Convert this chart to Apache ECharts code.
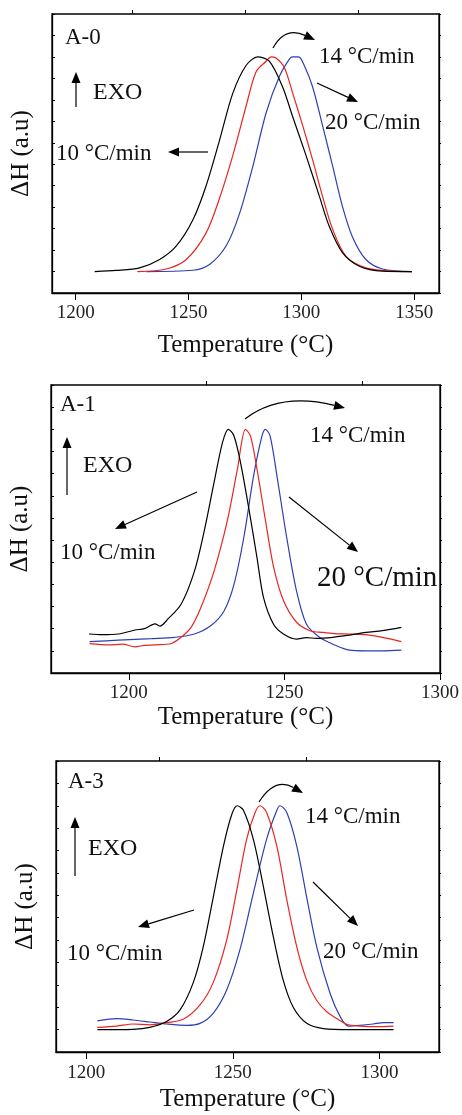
<!DOCTYPE html>
<html>
<head>
<meta charset="utf-8">
<script src="https://cdn.jsdelivr.net/npm/echarts@6/dist/echarts.min.js"></script>
<style>
html,body{margin:0;padding:0;background:#fff;}
#chart{width:462px;height:1115px;}
</style>
</head>
<body>
<div id="chart"></div>
<script>
// ---------- DATA ----------
// Panel A-0
const a0_t10 = [1208.4,1218,1228.3,1237.2,1244.5,1251.9,1257.8,1263.7,1269.6,1275.5,1280.7,1285.8,1291.7,1296.2,1302.1,1308,1312.4,1318.3,1325.7,1336,1349];
const a0_h10 = [0,0.005,0.017,0.056,0.118,0.24,0.40,0.61,0.83,0.96,1.0,0.98,0.86,0.72,0.54,0.35,0.21,0.087,0.025,0.002,0];
const a0_t14 = [1227.3,1240.1,1249,1257.8,1263.7,1269.6,1275.5,1279.9,1284.4,1286.6,1288.8,1292.5,1296.2,1300.6,1305,1309.4,1313.9,1319.8,1328.6,1338,1349];
const a0_h14 = [0,0.012,0.056,0.18,0.34,0.54,0.77,0.93,0.98,1.0,0.995,0.95,0.83,0.68,0.52,0.35,0.196,0.071,0.017,0.003,0];
const a0_t20 = [1231.3,1251.9,1259.3,1266.7,1272.6,1278.5,1284.4,1290.3,1294.7,1296.2,1298.8,1301.3,1305,1309.4,1313.9,1318.3,1322.7,1328.6,1336,1349];
const a0_h20 = [0,0.006,0.033,0.12,0.27,0.49,0.74,0.91,0.99,1.0,1.0,0.96,0.86,0.68,0.49,0.30,0.16,0.056,0.012,0];

// Panel A-1
const a1_t10 = [1187.2,1191.4,1196.7,1202,1205,1208.4,1210,1212.6,1216.8,1221.1,1224.3,1227.4,1230.1,1232,1233.8,1235.9,1238.6,1241.2,1243.3,1246.5,1249.7,1253.9,1257,1260.3,1265.6,1270.9,1276.2,1281.5,1287.6];
const a1_h10 = [0.076,0.073,0.076,0.094,0.1,0.122,0.112,0.144,0.21,0.36,0.545,0.76,0.94,1.0,0.97,0.85,0.64,0.42,0.24,0.12,0.076,0.053,0.06,0.056,0.061,0.071,0.083,0.091,0.106];
const a1_t14 = [1187.4,1193.5,1198,1202,1205,1208.4,1213.7,1216.8,1220,1223.2,1227.4,1231.7,1234.9,1237.5,1239.1,1241.2,1243.9,1246.5,1249.7,1253.9,1258.2,1262.4,1266,1270.9,1276.2,1281.5,1287.6];
const a1_h14 = [0.033,0.027,0.03,0.018,0.025,0.027,0.033,0.061,0.106,0.197,0.36,0.59,0.82,1.0,0.97,0.82,0.59,0.38,0.227,0.129,0.091,0.083,0.078,0.076,0.073,0.061,0.042];
const a1_t20 = [1187.4,1196.7,1207.3,1214.7,1221.1,1226.4,1230.6,1233.8,1237,1240.1,1242.8,1243.9,1245.4,1247.6,1250.7,1253.9,1257.1,1261.3,1265.6,1270.9,1276.2,1281.5,1287.6];
const a1_h20 = [0.042,0.048,0.055,0.061,0.076,0.114,0.18,0.30,0.515,0.79,0.97,1.0,0.97,0.79,0.515,0.27,0.12,0.061,0.03,0.003,0,0,0.003];

// Panel A-3
const a3_t10 = [1203.8,1216,1221.7,1227.4,1232,1236.5,1239.9,1243.3,1246.8,1249.6,1251.5,1253.6,1257,1260.4,1263.8,1267.2,1270.6,1275.2,1280.9,1290,1304.8];
const a3_h10 = [0,0.0015,0.01,0.036,0.088,0.21,0.37,0.59,0.82,0.96,1.0,0.98,0.85,0.64,0.415,0.22,0.10,0.028,0.0045,0,0];
const a3_t14 = [1203.8,1210.4,1216,1221.7,1227.4,1233.1,1238.8,1243.3,1247.9,1251.3,1254.7,1257.6,1259.3,1261.5,1265,1268.4,1271.8,1275.2,1278.6,1282,1285.4,1288.8,1293.4,1299.1,1304.8];
const a3_h14 = [0.01,0.016,0.025,0.021,0.031,0.046,0.11,0.21,0.40,0.62,0.85,0.97,1.0,0.97,0.82,0.58,0.37,0.22,0.13,0.08,0.05,0.024,0.016,0.013,0.016];
const a3_t20 = [1203.8,1210.4,1216,1221.7,1227.4,1234.2,1238.8,1243.3,1247.9,1252.4,1257,1261.5,1265,1266.1,1268.4,1271.8,1275.2,1278.6,1283.2,1286.6,1289.4,1293.4,1297.9,1301.4,1304.8];
const a3_h20 = [0.039,0.049,0.043,0.034,0.025,0.019,0.028,0.073,0.177,0.356,0.61,0.85,0.98,1.0,0.97,0.82,0.59,0.37,0.16,0.058,0.016,0.019,0.025,0.031,0.031];

const xMajor0 = [1200,1250,1300,1350];
const xMinor0 = [1225,1275,1325];
const xMajor1 = [1200,1250,1300];
const xMinor1 = [1225,1275];
const xMajor3 = [1200,1250,1300];
const xMinor3 = [1225,1275];

const rateLabels = ['10 °C/min','14 °C/min','20 °C/min'];
const panelNames = ['A-0','A-1','A-3'];

// ---------- STYLE ----------
const FONT = "'Liberation Serif','Times New Roman',serif";
const COLORS = ['#000000','#e8261f','#2f3fb2'];

const grids = [
  {left:52, top:14, width:387, height:279},
  {left:49, top:385, width:393, height:288},
  {left:56, top:761, width:383, height:291}
];
const xRanges = [[1189.5,1361],[1175,1300],[1189.7,1320.3]];
const majors = [xMajor0,xMajor1,xMajor3];
const minors = [xMinor0,xMinor1,xMinor3];
const labelMargins = [11,11,12];
const nameGaps = [40,32,35];

const xAxis = [], yAxis = [], series = [];
grids.forEach((g,i)=>{
  xAxis.push({
    type:'value', gridIndex:i, min:xRanges[i][0], max:xRanges[i][1],
    name:'Temperature (°C)', nameLocation:'middle', nameGap:nameGaps[i],
    nameTextStyle:{fontFamily:FONT, fontSize:25, color:'#111'},
    axisLine:{show:true, onZero:false, lineStyle:{color:'#000', width:1.3}},
    axisTick:{show:true, inside:false, length:7, customValues:majors[i], lineStyle:{color:'#000'}},
    axisLabel:{show:true, margin:labelMargins[i], customValues:majors[i], fontFamily:FONT, fontSize:19, color:'#222',
      formatter:(v)=>String(Math.round(v))},
    splitLine:{show:false}
  });
  xAxis.push({
    type:'value', gridIndex:i, min:xRanges[i][0], max:xRanges[i][1],
    axisLine:{show:false, onZero:false},
    axisTick:{show:true, inside:false, length:4, customValues:minors[i], lineStyle:{color:'#000'}},
    axisLabel:{show:false},
    splitLine:{show:false}
  });
  yAxis.push({
    type:'value', gridIndex:i, min:-0.1, max:1.2, interval:0.1, position:'left',
    name:'ΔH (a.u)', nameLocation:'middle', nameGap:18, nameRotate:90,
    nameTextStyle:{fontFamily:FONT, fontSize:25, color:'#111'},
    axisLine:{show:true, onZero:false, lineStyle:{color:'#000', width:1.3}},
    axisTick:{show:true, inside:true, length:3, lineStyle:{color:'#000'}},
    axisLabel:{show:false}, splitLine:{show:false}
  });
  yAxis.push({
    type:'value', gridIndex:i, min:-0.1, max:1.2, interval:0.1, position:'right',
    axisLine:{show:true, onZero:false, lineStyle:{color:'#000', width:1.3}},
    axisTick:{show:true, inside:false, length:2, lineStyle:{color:'#000'}},
    axisLabel:{show:false}, splitLine:{show:false}
  });
});

function zip(t,h){ return t.map((v,k)=>[v,h[k]]); }
const panelData = [
  [[a0_t10,a0_h10],[a0_t14,a0_h14],[a0_t20,a0_h20]],
  [[a1_t10,a1_h10],[a1_t14,a1_h14],[a1_t20,a1_h20]],
  [[a3_t10,a3_h10],[a3_t14,a3_h14],[a3_t20,a3_h20]]
];
panelData.forEach((pd,i)=>{
  pd.forEach((d,k)=>{
    series.push({
      type:'line', name:rateLabels[k], xAxisIndex:2*i, yAxisIndex:2*i,
      data:zip(d[0],d[1]), showSymbol:false, smooth:0.3,
      lineStyle:{color:COLORS[k], width:1.2}, itemStyle:{color:COLORS[k]},
      silent:true, animation:false, z:3+(2-k)
    });
  });
});

// ---------- ANNOTATIONS ----------
const graphic = [];
function txt(s,x,y,size){
  graphic.push({type:'text', x:x, y:y, silent:true, z:10,
    style:{text:s, fill:'#111', font:size+'px '+FONT, textAlign:'left', textVerticalAlign:'middle'}});
}
function head(x2,y2,ang){
  const L=11, W=4.5;
  const bx=x2-L*Math.cos(ang), by=y2-L*Math.sin(ang);
  graphic.push({type:'polygon', silent:true, z:10,
    shape:{points:[[x2,y2],[bx+W*Math.sin(ang),by-W*Math.cos(ang)],[bx-W*Math.sin(ang),by+W*Math.cos(ang)]]},
    style:{fill:'#000'}});
  return [bx,by];
}
function arrow(x1,y1,x2,y2){
  const ang=Math.atan2(y2-y1,x2-x1);
  const b=head(x2,y2,ang);
  graphic.push({type:'line', silent:true, z:10, shape:{x1:x1,y1:y1,x2:b[0],y2:b[1]}, style:{stroke:'#000', lineWidth:1.2}});
}
function curved(x1,y1,cx,cy,x2,y2){
  const ang=Math.atan2(y2-cy,x2-cx);
  const b=head(x2,y2,ang);
  graphic.push({type:'bezierCurve', silent:true, z:10, shape:{x1:x1,y1:y1,x2:b[0],y2:b[1],cpx1:cx,cpy1:cy}, style:{stroke:'#000', lineWidth:1.2, fill:null}});
}

// Panel A-0
txt(panelNames[0],65,37.5,23);
txt('EXO',93,92.5,24);
arrow(76,107,76,72);
txt(rateLabels[1],319,56.5,23);
txt(rateLabels[2],325,123,23);
txt(rateLabels[0],56,154,23);
arrow(208,152,168,152);
curved(273,48,285,26,315,40);
arrow(317,83,358,102);

// Panel A-1
txt(panelNames[1],60,404.5,23);
txt('EXO',83,465.5,24);
arrow(67,495,67,437);
txt(rateLabels[1],310,435.5,23);
txt(rateLabels[0],60,552.5,23);
txt(rateLabels[2],317,578,29);
curved(245,419,280,392,345,408);
arrow(197,492,115,529);
arrow(289,497,358,552);

// Panel A-3
txt(panelNames[2],68,781.5,23);
txt('EXO',88,849,24);
arrow(75,876,75,817);
txt(rateLabels[1],305,816.5,23);
txt(rateLabels[0],67,953.5,23);
txt(rateLabels[2],323,951.5,23);
curved(259,802,275,777,303,793);
arrow(194,910,138,927);
arrow(313,882,358,926);

const chart = echarts.init(document.getElementById('chart'), null, {renderer:'canvas'});
chart.setOption({
  animation:false,
  backgroundColor:'#fff',
  grid: grids.map(g=>Object.assign({show:true, borderColor:'#000', borderWidth:1.3, backgroundColor:'transparent', containLabel:false}, g)),
  xAxis: xAxis,
  yAxis: yAxis,
  series: series,
  graphic: graphic
});
</script>
</body>
</html>
